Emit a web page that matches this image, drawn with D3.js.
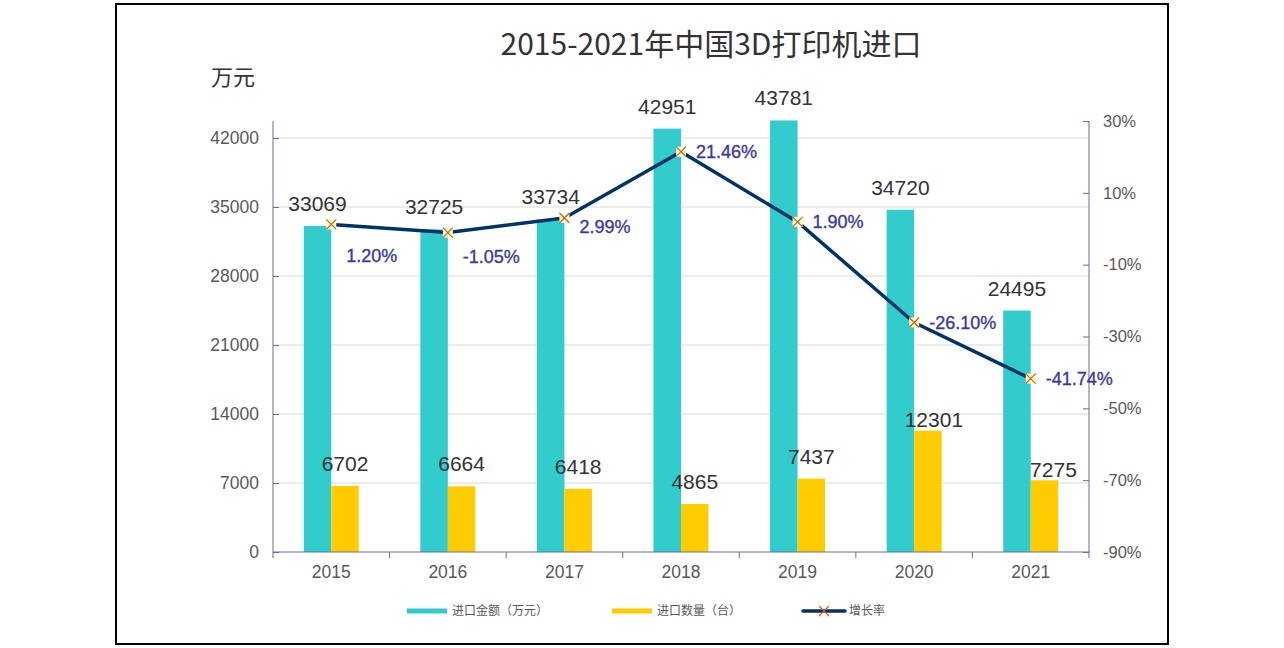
<!DOCTYPE html>
<html>
<head>
<meta charset="utf-8">
<script src="https://cdn.jsdelivr.net/npm/d3@7/dist/d3.min.js"></script>
<style>
  html, body { margin: 0; padding: 0; background: #fff; }
  text { font-family: "Liberation Sans", Arial, "Noto Sans CJK SC", sans-serif; }
  .cjk { font-family: "Noto Sans CJK SC", sans-serif; }
</style>
</head>
<body>
<div id="chart"></div>
<script>
const years = ['2015', '2016', '2017', '2018', '2019', '2020', '2021'];
const amount = [33069, 32725, 33734, 42951, 43781, 34720, 24495];
const quantity = [6702, 6664, 6418, 4865, 7437, 12301, 7275];
const growth = [1.20, -1.05, 2.99, 21.46, 1.90, -26.10, -41.74];
const leftTicks = [0, 7000, 14000, 21000, 28000, 35000, 42000];
const rightTicks = [30, 10, -10, -30, -50, -70, -90];

const W = 1284;
const H = 648;
const plot = { left: 273, right: 1089, top: 121, bottom: 552 };

const axisColor = '#6a6aa0';
const tickFont = '"Liberation Sans", Arial, sans-serif';

const svg = d3.select('#chart')
  .append('svg')
  .attr('width', W)
  .attr('height', H);

// outer frame
svg.append('rect')
  .attr('x', 116)
  .attr('y', 4)
  .attr('width', 1052)
  .attr('height', 640)
  .attr('fill', '#fff')
  .attr('stroke', '#000')
  .attr('stroke-width', 2);

const x = d3.scaleBand()
  .domain(years)
  .range([plot.left, plot.right]);

const y = d3.scaleLinear()
  .domain([0, 43725])
  .range([plot.bottom, plot.top]);

const yPct = d3.scaleLinear()
  .domain([-90, 30])
  .range([plot.bottom, plot.top]);

const barW = 27.5;

// grid
svg.append('g')
  .selectAll('line')
  .data(leftTicks.filter(d => d > 0))
  .enter()
  .append('line')
  .attr('x1', plot.left)
  .attr('x2', plot.right)
  .attr('y1', d => y(d))
  .attr('y2', d => y(d))
  .attr('stroke', '#d9d9d9')
  .attr('stroke-width', 1);

// left axis
const leftAxis = d3.axisLeft(y)
  .tickValues(leftTicks)
  .tickSize(6)
  .tickFormat(d3.format('d'));

svg.append('g')
  .attr('class', 'axis left')
  .attr('transform', `translate(${plot.left},0)`)
  .call(leftAxis)
  .call(g => {
    g.select('.domain').attr('stroke', axisColor).attr('d', `M0,${plot.top}V${plot.bottom}`);
    g.selectAll('.tick line').attr('stroke', axisColor).attr('x1', 0).attr('x2', 6);
    g.selectAll('.tick text')
      .attr('fill', '#595959')
      .attr('font-size', 17.5)
      .attr('x', -14)
      .style('font-family', tickFont);
  });

// right axis
const rightAxis = d3.axisRight(yPct)
  .tickValues(rightTicks)
  .tickSize(0)
  .tickPadding(14)
  .tickFormat(d => `${d}%`);

svg.append('g')
  .attr('class', 'axis right')
  .attr('transform', `translate(${plot.right},0)`)
  .call(rightAxis)
  .call(g => {
    g.select('.domain').attr('stroke', axisColor).attr('d', `M0,${plot.top}V${plot.bottom}`);
    g.selectAll('.tick line').attr('stroke', axisColor).attr('x1', -6).attr('x2', 0);
    g.selectAll('.tick text')
      .attr('fill', '#595959')
      .attr('font-size', 16.5)
      .style('font-family', tickFont);
  });

// bars
const bars = svg.append('g').attr('class', 'bars');

bars.selectAll('rect.amount')
  .data(amount)
  .enter()
  .append('rect')
  .attr('class', 'amount')
  .attr('x', (d, i) => x(years[i]) + x.bandwidth() / 2 - barW)
  .attr('y', d => y(d))
  .attr('width', barW)
  .attr('height', d => plot.bottom - y(d))
  .attr('fill', '#33cccc');

bars.selectAll('rect.quantity')
  .data(quantity)
  .enter()
  .append('rect')
  .attr('class', 'quantity')
  .attr('x', (d, i) => x(years[i]) + x.bandwidth() / 2)
  .attr('y', d => y(d))
  .attr('width', barW)
  .attr('height', d => plot.bottom - y(d))
  .attr('fill', '#ffcc00');

// x axis
const xAxis = d3.axisBottom(x)
  .tickSize(0)
  .tickPadding(14);

svg.append('g')
  .attr('class', 'x axis')
  .attr('transform', `translate(0,${plot.bottom})`)
  .call(xAxis)
  .call(g => {
    g.select('.domain').attr('stroke', axisColor).attr('d', `M${plot.left},0H${plot.right}`);
    g.selectAll('.tick text')
      .attr('fill', '#595959')
      .attr('font-size', 17.5)
      .style('font-family', tickFont);
  });

svg.append('g')
  .selectAll('line')
  .data(years.concat(['end']))
  .enter()
  .append('line')
  .attr('x1', (d, i) => plot.left + i * x.bandwidth())
  .attr('x2', (d, i) => plot.left + i * x.bandwidth())
  .attr('y1', plot.bottom)
  .attr('y2', plot.bottom + 6)
  .attr('stroke', axisColor);

// value labels (two were dragged by hand in the original)
const qtyDx = [0, 0, 0, 0, 0, 6, 9];
const qtyDy = [0, 0, 0, 0, 0, 11, 12];

svg.append('g')
  .selectAll('text')
  .data(amount)
  .enter()
  .append('text')
  .attr('x', (d, i) => x(years[i]) + x.bandwidth() / 2 - barW / 2)
  .attr('y', d => y(d) - 15)
  .attr('text-anchor', 'middle')
  .attr('font-size', 21)
  .attr('fill', '#333')
  .text(d => d);

svg.append('g')
  .selectAll('text')
  .data(quantity)
  .enter()
  .append('text')
  .attr('x', (d, i) => x(years[i]) + x.bandwidth() / 2 + barW / 2 + qtyDx[i])
  .attr('y', (d, i) => y(d) - 15 + qtyDy[i])
  .attr('text-anchor', 'middle')
  .attr('font-size', 21)
  .attr('fill', '#333')
  .text(d => d);

// growth line
const cx = i => x(years[i]) + x.bandwidth() / 2;

const line = d3.line()
  .x((d, i) => cx(i))
  .y(d => yPct(d));

svg.append('path')
  .datum(growth)
  .attr('d', line)
  .attr('fill', 'none')
  .attr('stroke', '#003366')
  .attr('stroke-width', 3.5)
  .attr('stroke-linejoin', 'round');

function marker(g, px, py, box) {
  if (box) {
    g.append('rect')
      .attr('x', px - 5)
      .attr('y', py - 5)
      .attr('width', 10)
      .attr('height', 10)
      .attr('fill', '#ffffc8');
  }
  g.append('path')
    .attr('d', `M${px - 5},${py - 5}L${px + 5},${py + 5}M${px + 5},${py - 5}L${px - 5},${py + 5}`)
    .attr('stroke', '#d9541e')
    .attr('stroke-width', 1.1);
}

const markers = svg.append('g');
growth.forEach((d, i) => marker(markers, cx(i), yPct(d), true));

// growth labels, nudged like the original
const pctDy = [31, 24, 9, 0, 0, 0, 0];
svg.append('g')
  .selectAll('text')
  .data(growth)
  .enter()
  .append('text')
  .attr('x', (d, i) => cx(i) + 15)
  .attr('y', (d, i) => yPct(d) + pctDy[i])
  .attr('dy', '0.35em')
  .attr('font-size', 18)
  .attr('fill', '#3a3a9e')
  .attr('stroke', '#3a3a9e')
  .attr('stroke-width', 0.35)
  .text(d => `${d.toFixed(2)}%`);

// title
svg.append('text')
  .attr('class', 'cjk')
  .attr('x', 711)
  .attr('y', 55)
  .attr('text-anchor', 'middle')
  .attr('font-size', 30)
  .attr('fill', '#333')
  .text('2015-2021年中国3D打印机进口');

svg.append('text')
  .attr('class', 'cjk')
  .attr('x', 211)
  .attr('y', 85)
  .attr('font-size', 22)
  .attr('fill', '#333')
  .text('万元');

// legend
const legend = svg.append('g').attr('transform', 'translate(0,611)');

legend.append('line')
  .attr('x1', 407).attr('x2', 447)
  .attr('stroke', '#33cccc').attr('stroke-width', 5);
legend.append('text')
  .attr('class', 'cjk')
  .attr('x', 452).attr('dy', '0.35em')
  .attr('font-size', 12).attr('fill', '#595959')
  .text('进口金额（万元）');

legend.append('line')
  .attr('x1', 612).attr('x2', 652)
  .attr('stroke', '#ffcc00').attr('stroke-width', 5);
legend.append('text')
  .attr('class', 'cjk')
  .attr('x', 657).attr('dy', '0.35em')
  .attr('font-size', 12).attr('fill', '#595959')
  .text('进口数量（台）');

legend.append('line')
  .attr('x1', 803).attr('x2', 845)
  .attr('stroke', '#003366').attr('stroke-width', 3.5)
  .attr('stroke-linecap', 'round');
marker(legend.append('g'), 824, 0, false);
legend.append('text')
  .attr('class', 'cjk')
  .attr('x', 849).attr('dy', '0.35em')
  .attr('font-size', 12).attr('fill', '#595959')
  .text('增长率');
</script>
</body>
</html>
